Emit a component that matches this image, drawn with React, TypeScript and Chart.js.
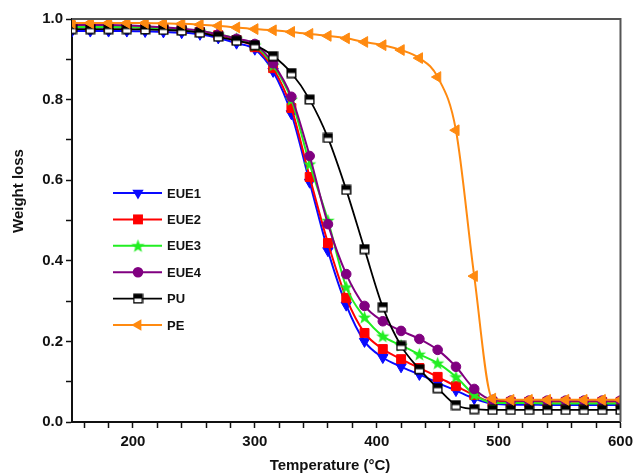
import React, { useEffect, useRef } from "react";
import { Chart, registerables } from "chart.js";

Chart.register(...registerables);

const temperatures = [150, 165, 180, 195, 210, 225, 240, 255, 270, 285, 300, 315, 330, 345, 360, 375, 390, 405, 420, 435, 450, 465, 480, 495, 510, 525, 540, 555, 570, 585, 600];

const eue1 = [0.97, 0.97, 0.97, 0.97, 0.969, 0.968, 0.966, 0.962, 0.953, 0.94, 0.925, 0.87, 0.765, 0.595, 0.425, 0.29, 0.2, 0.16, 0.137, 0.118, 0.097, 0.078, 0.058, 0.045, 0.043, 0.043, 0.042, 0.042, 0.042, 0.042, 0.042];
const eue2 = [0.98, 0.98, 0.98, 0.98, 0.978, 0.976, 0.973, 0.968, 0.96, 0.948, 0.93, 0.878, 0.779, 0.608, 0.444, 0.308, 0.221, 0.181, 0.156, 0.134, 0.112, 0.089, 0.067, 0.05, 0.05, 0.05, 0.05, 0.05, 0.05, 0.05, 0.05];
const eue3 = [0.98, 0.98, 0.98, 0.98, 0.978, 0.976, 0.974, 0.97, 0.962, 0.951, 0.935, 0.885, 0.8, 0.64, 0.5, 0.335, 0.26, 0.213, 0.19, 0.168, 0.146, 0.112, 0.068, 0.048, 0.047, 0.047, 0.046, 0.046, 0.046, 0.046, 0.046];
const eue4 = [0.985, 0.985, 0.985, 0.984, 0.982, 0.979, 0.976, 0.971, 0.962, 0.951, 0.938, 0.89, 0.807, 0.66, 0.491, 0.367, 0.288, 0.25, 0.226, 0.206, 0.179, 0.137, 0.082, 0.055, 0.053, 0.053, 0.053, 0.053, 0.053, 0.053, 0.053];
const pu = [0.975, 0.975, 0.975, 0.975, 0.974, 0.973, 0.971, 0.966, 0.956, 0.946, 0.935, 0.908, 0.866, 0.8, 0.705, 0.576, 0.429, 0.285, 0.189, 0.131, 0.084, 0.042, 0.032, 0.03, 0.03, 0.03, 0.03, 0.03, 0.03, 0.03, 0.03];
const pe = [0.99, 0.99, 0.99, 0.99, 0.99, 0.989, 0.988, 0.986, 0.983, 0.979, 0.975, 0.972, 0.968, 0.963, 0.958, 0.952, 0.943, 0.935, 0.923, 0.903, 0.856, 0.724, 0.362, 0.058, 0.055, 0.055, 0.055, 0.055, 0.055, 0.055, 0.055];

const seriesNames = ["EUE1", "EUE2", "EUE3", "EUE4", "PU", "PE"];
const seriesValues = [eue1, eue2, eue3, eue4, pu, pe];

const xTickValues = [160, 180, 200, 220, 240, 260, 280, 300, 320, 340, 360, 380, 400, 420, 440, 460, 480, 500, 520, 540, 560, 580, 600];
const yTickValues = [0, 0.1, 0.2, 0.3, 0.4, 0.5, 0.6, 0.7, 0.8, 0.9, 1.0];

const xTitle = "Temperature (°C)";
const yTitle = "Weight loss";

const FONT = "'Liberation Sans', Arial, sans-serif";

function makeStar(color: string): HTMLCanvasElement {
  const c = document.createElement("canvas");
  c.width = 15;
  c.height = 15;
  const g = c.getContext("2d")!;
  g.fillStyle = color;
  g.beginPath();
  for (let i = 0; i < 10; i++) {
    const r = i % 2 === 0 ? 7 : 2.9;
    const a = -Math.PI / 2 + (i * Math.PI) / 5;
    const px = 7.5 + r * Math.cos(a);
    const py = 8 + r * Math.sin(a);
    if (i === 0) g.moveTo(px, py);
    else g.lineTo(px, py);
  }
  g.closePath();
  g.fill();
  return c;
}

function makeHalfSquare(): HTMLCanvasElement {
  const c = document.createElement("canvas");
  c.width = 11;
  c.height = 11;
  const g = c.getContext("2d")!;
  g.fillStyle = "#ffffff";
  g.fillRect(1, 1, 9, 9);
  g.fillStyle = "#000000";
  g.fillRect(1, 1, 9, 4.5);
  g.strokeStyle = "#000000";
  g.lineWidth = 1.4;
  g.strokeRect(1.2, 1.2, 8.6, 8.6);
  return c;
}

type Spec = {
  color: string;
  style: any;
  rotation: number;
  radius: number;
  order: number;
  width: number;
};

export default function App() {
  const ref = useRef<HTMLCanvasElement>(null);

  useEffect(() => {
    const canvas = ref.current!;
    const star = makeStar("#22ee22");
    const half = makeHalfSquare();

    const specs: Spec[] = [
      { color: "#0a0aff", style: "triangle", rotation: 180, radius: 6, order: 5, width: 2 },
      { color: "#ff0000", style: "rect", rotation: 0, radius: 6.3, order: 4, width: 2 },
      { color: "#22ee22", style: star, rotation: 0, radius: 6, order: 3, width: 2 },
      { color: "#800080", style: "circle", rotation: 0, radius: 4.8, order: 2, width: 2 },
      { color: "#000000", style: half, rotation: 0, radius: 5, order: 1, width: 1.8 },
      { color: "#ff8a10", style: "triangle", rotation: 270, radius: 6.2, order: 0, width: 2 },
    ];

    const datasets = seriesNames.map((name, k) => {
      const s = specs[k];
      return {
        label: name,
        data: temperatures.map((t, i) => ({ x: t, y: seriesValues[k][i] })),
        borderColor: s.color,
        backgroundColor: s.color,
        borderWidth: s.width,
        pointStyle: s.style,
        pointRotation: s.rotation,
        pointRadius: s.radius,
        pointBackgroundColor: s.color,
        pointBorderColor: s.color,
        pointBorderWidth: 1,
        cubicInterpolationMode: "monotone" as const,
        order: s.order,
        fill: false,
      };
    });

    const drawMarker = (ctx: CanvasRenderingContext2D, k: number, x: number, y: number) => {
      const s = specs[k];
      ctx.save();
      ctx.fillStyle = s.color;
      if (typeof s.style !== "string") {
        const img = s.style as HTMLCanvasElement;
        ctx.drawImage(img, x - img.width / 2, y - img.height / 2);
      } else if (s.style === "circle") {
        ctx.beginPath();
        ctx.arc(x, y, s.radius + 0.5, 0, Math.PI * 2);
        ctx.fill();
      } else if (s.style === "rect") {
        const h = s.radius * Math.SQRT1_2 + 0.5;
        ctx.fillRect(x - h, y - h, 2 * h, 2 * h);
      } else {
        let rad = (s.rotation * Math.PI) / 180;
        const r = s.radius + 0.5;
        ctx.beginPath();
        for (let i = 0; i < 3; i++) {
          const px = x + Math.sin(rad) * r;
          const py = y - Math.cos(rad) * r;
          if (i === 0) ctx.moveTo(px, py);
          else ctx.lineTo(px, py);
          rad += (2 * Math.PI) / 3;
        }
        ctx.closePath();
        ctx.fill();
      }
      ctx.restore();
    };

    const decor = {
      id: "decor",
      afterDraw(chart: any) {
        const ctx = chart.ctx as CanvasRenderingContext2D;
        const a = chart.chartArea;
        ctx.save();
        // top & right frame
        ctx.strokeStyle = "#555555";
        ctx.lineWidth = 2;
        ctx.beginPath();
        ctx.moveTo(a.left, a.top);
        ctx.lineTo(a.right, a.top);
        ctx.lineTo(a.right, a.bottom);
        ctx.stroke();

        // legend
        const x0 = 113;
        const x1 = 162;
        const y0 = 193;
        const dy = 26.4;
        ctx.font = `bold 13px ${FONT}`;
        ctx.textBaseline = "middle";
        ctx.textAlign = "left";
        seriesNames.forEach((name, k) => {
          const y = y0 + k * dy;
          ctx.strokeStyle = specs[k].color;
          ctx.lineWidth = specs[k].width;
          ctx.beginPath();
          ctx.moveTo(x0, y);
          ctx.lineTo(x1, y);
          ctx.stroke();
          drawMarker(ctx, k, (x0 + x1) / 2 + 0.5, y);
          ctx.fillStyle = "#111111";
          ctx.fillText(name, 167, y + 1);
        });

        // axis titles
        ctx.fillStyle = "#111111";
        ctx.font = `bold 15px ${FONT}`;
        ctx.textAlign = "center";
        ctx.textBaseline = "alphabetic";
        ctx.fillText(xTitle, 330, 470);
        ctx.translate(19, 191);
        ctx.rotate(-Math.PI / 2);
        ctx.textBaseline = "middle";
        ctx.fillText(yTitle, 0, 0);
        ctx.restore();
      },
    };

    const tickFont = { family: FONT, size: 15, weight: "bold" as const };

    const chart = new Chart(canvas, {
      type: "line",
      data: { datasets: datasets as any },
      options: {
        animation: false,
        responsive: false,
        events: [],
        layout: { padding: { top: 19, right: 15, left: 0, bottom: 0 } },
        plugins: { legend: { display: false }, tooltip: { enabled: false } },
        scales: {
          x: {
            type: "linear",
            min: 150,
            max: 600,
            afterBuildTicks: (scale: any) => {
              scale.ticks = xTickValues.map((v) => ({ value: v }));
            },
            afterFit: (scale: any) => {
              scale.height = 52;
            },
            ticks: {
              autoSkip: false,
              maxRotation: 0,
              padding: 5,
              color: "#111111",
              font: tickFont,
              callback: (v: any) => (Number(v) % 100 === 0 ? String(v) : ""),
            },
            grid: {
              drawOnChartArea: false,
              drawTicks: true,
              tickLength: 6,
              tickWidth: 1.5,
              tickColor: "#111111",
            },
            border: { display: true, color: "#111111", width: 2 },
          },
          y: {
            type: "linear",
            min: 0,
            max: 1,
            afterBuildTicks: (scale: any) => {
              scale.ticks = yTickValues.map((v) => ({ value: v }));
            },
            afterFit: (scale: any) => {
              scale.width = 72;
            },
            ticks: {
              autoSkip: false,
              padding: 3,
              color: "#111111",
              font: tickFont,
              callback: (v: any) => (Math.round(Number(v) * 10) % 2 === 0 ? Number(v).toFixed(1) : ""),
            },
            grid: {
              drawOnChartArea: false,
              drawTicks: true,
              tickLength: 6,
              tickWidth: 1.5,
              tickColor: "#111111",
            },
            border: { display: true, color: "#111111", width: 2 },
          },
        },
      },
      plugins: [decor],
    });

    return () => chart.destroy();
  }, []);

  return (
    <canvas
      ref={ref}
      width={638}
      height={474}
      style={{ position: "absolute", left: 0, top: 0, width: 638, height: 474 }}
    />
  );
}
